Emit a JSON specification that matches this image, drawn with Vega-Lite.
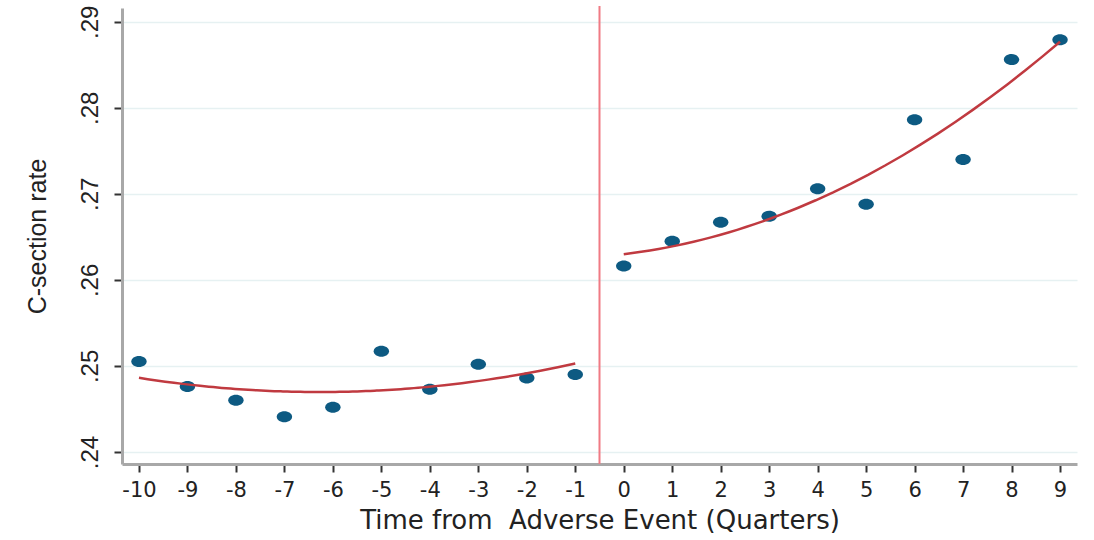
{
  "$schema": "https://vega.github.io/schema/vega-lite/v6.json",
  "width": 955,
  "height": 456,
  "autosize": "none",
  "padding": {"left": 122, "top": 8, "right": 17, "bottom": 76},
  "background": "white",
  "config": {"view": {"stroke": null}},
  "datasets": {
    "pts": [
      {"t": -10, "rate": 0.2505, "period": "pre"},
      {"t": -9, "rate": 0.2476, "period": "pre"},
      {"t": -8, "rate": 0.2460, "period": "pre"},
      {"t": -7, "rate": 0.2441, "period": "pre"},
      {"t": -6, "rate": 0.2452, "period": "pre"},
      {"t": -5, "rate": 0.2517, "period": "pre"},
      {"t": -4, "rate": 0.2473, "period": "pre"},
      {"t": -3, "rate": 0.2502, "period": "pre"},
      {"t": -2, "rate": 0.2486, "period": "pre"},
      {"t": -1, "rate": 0.2490, "period": "pre"},
      {"t": 0, "rate": 0.2616, "period": "post"},
      {"t": 1, "rate": 0.2645, "period": "post"},
      {"t": 2, "rate": 0.2667, "period": "post"},
      {"t": 3, "rate": 0.2674, "period": "post"},
      {"t": 4, "rate": 0.2706, "period": "post"},
      {"t": 5, "rate": 0.2688, "period": "post"},
      {"t": 6, "rate": 0.2786, "period": "post"},
      {"t": 7, "rate": 0.2740, "period": "post"},
      {"t": 8, "rate": 0.2856, "period": "post"},
      {"t": 9, "rate": 0.2879, "period": "post"}
    ],
    "event": [{"t": -0.5}]
  },
  "layer": [
    {
      "data": {"name": "pts"},
      "mark": {"type": "point", "filled": true, "opacity": 1, "color": "#0d5a82", "size": 121,
               "shape": "M-1.4,0A1.4,1,0,1,0,1.4,0A1.4,1,0,1,0,-1.4,0Z"},
      "encoding": {
        "x": {
          "field": "t", "type": "quantitative",
          "scale": {"domain": [-10.35, 9.35], "nice": false, "zero": false},
          "axis": {
            "values": [-10,-9,-8,-7,-6,-5,-4,-3,-2,-1,0,1,2,3,4,5,6,7,8,9],
            "labelExpr": "datum.value < 0 ? '-' + abs(datum.value) : '' + datum.value",
            "title": "Time from \u00a0Adverse Event (Quarters)",
            "grid": false,
            "domainColor": "#a8a8a8", "domainWidth": 3,
            "tickColor": "#333333", "tickWidth": 2, "tickSize": 8,
            "labelFont": "DejaVu Sans", "labelFontSize": 21, "labelColor": "#222222",
            "labelPadding": 7, "labelFlush": false,
            "titleFont": "DejaVu Sans", "titleFontSize": 26, "titleFontWeight": "normal",
            "titleColor": "#222222", "titlePadding": 7
          }
        },
        "y": {
          "field": "rate", "type": "quantitative",
          "scale": {"domain": [0.2386, 0.2916], "nice": false, "zero": false},
          "axis": {
            "values": [0.24, 0.25, 0.26, 0.27, 0.28, 0.29],
            "labelExpr": "substring(format(datum.value, '.2f'), 1)",
            "title": "C-section rate",
            "grid": true, "gridColor": "#e6f1f2", "gridWidth": 1.5,
            "domainColor": "#a8a8a8", "domainWidth": 3,
            "tickColor": "#333333", "tickWidth": 2, "tickSize": 8,
            "labelFont": "Liberation Sans", "labelFontSize": 24, "labelColor": "#222222",
            "labelAngle": -90, "labelAlign": "center", "labelBaseline": "bottom",
            "labelPadding": 12, "labelFlush": false,
            "titleFont": "Liberation Sans", "titleFontSize": 25, "titleFontWeight": "normal",
            "titleColor": "#222222", "titlePadding": 28
          }
        }
      }
    },
    {
      "data": {"name": "pts"},
      "transform": [
        {"regression": "rate", "on": "t", "method": "poly", "order": 2, "groupby": ["period"]}
      ],
      "mark": {"type": "line", "color": "#c03a40", "strokeWidth": 2.5},
      "encoding": {
        "x": {"field": "t", "type": "quantitative"},
        "y": {"field": "rate", "type": "quantitative"},
        "detail": {"field": "period"}
      }
    },
    {
      "data": {"name": "event"},
      "mark": {"type": "rule", "color": "#f07a84", "strokeWidth": 2, "y": -2, "y2": 456},
      "encoding": {
        "x": {"field": "t", "type": "quantitative"}
      }
    }
  ]
}
